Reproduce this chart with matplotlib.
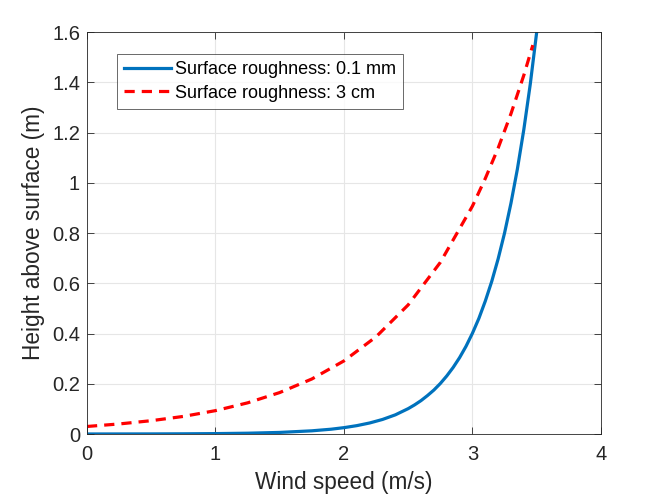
import matplotlib.pyplot as plt

# Wind speed (m/s) and height (m)
speed_smooth = [0.0, 0.5, 0.75, 1.0, 1.25, 1.5, 1.75, 1.9, 2.0, 2.1, 2.2, 2.3,
                2.4, 2.5, 2.55, 2.6, 2.65, 2.7, 2.75, 2.8, 2.85, 2.9, 2.95,
                3.0, 3.05, 3.1, 3.15, 3.2, 3.25, 3.3, 3.35, 3.4, 3.45, 3.5]
height_smooth = [0.0001, 0.0004, 0.0008, 0.0016, 0.0032, 0.0063, 0.0127, 0.0191,
                 0.0253, 0.0333, 0.0439, 0.0579, 0.0763, 0.101, 0.116, 0.133,
                 0.153, 0.175, 0.201, 0.231, 0.265, 0.304, 0.349, 0.401, 0.460,
                 0.529, 0.607, 0.697, 0.800, 0.919, 1.055, 1.212, 1.392, 1.599]

speed_rough = [0.0, 0.25, 0.5, 0.75, 1.0, 1.25, 1.5, 1.75, 2.0, 2.25, 2.5, 2.75,
               3.0, 3.1, 3.2, 3.3, 3.4, 3.47]
height_rough = [0.030, 0.040, 0.053, 0.070, 0.093, 0.124, 0.165, 0.219, 0.291,
                0.387, 0.514, 0.683, 0.907, 1.017, 1.138, 1.275, 1.428, 1.548]

labels = ['Surface roughness: 0.1 mm', 'Surface roughness: 3 cm']

plt.rcParams['font.family'] = ['Liberation Sans', 'DejaVu Sans']

fig = plt.figure(figsize=(6.64, 4.98), dpi=100)
ax = fig.add_axes([0.131, 0.1285, 0.774, 0.8072])

ax.plot(speed_smooth, height_smooth, color='#0072BD', lw=2.3, label=labels[0])
ax.plot(speed_rough, height_rough, color='#FF0000', lw=2.3, ls=(0, (3.2, 2.2)),
        label=labels[1])

ax.set_xlim(0, 4)
ax.set_ylim(0, 1.6)
ax.set_xticks([0, 1, 2, 3, 4])
ax.set_yticks([0, 0.2, 0.4, 0.6, 0.8, 1.0, 1.2, 1.4, 1.6])
ax.set_yticklabels(['0', '0.2', '0.4', '0.6', '0.8', '1', '1.2', '1.4', '1.6'])
ax.grid(True, color='#e6e6e6', lw=0.8)
ax.set_axisbelow(True)
ax.tick_params(direction='in', top=True, right=True, labelsize=14.5,
               colors='#262626', length=5, width=0.6)
ax.tick_params(axis='x', pad=8)
ax.tick_params(axis='y', pad=5)
for s in ax.spines.values():
    s.set_color('#262626')
    s.set_linewidth(0.6)

ax.set_xlabel('Wind speed (m/s)', fontsize=16.3, color='#262626', labelpad=5)
ax.set_ylabel('Height above surface (m)', fontsize=16.3, color='#262626',
              labelpad=5)

leg = ax.legend(loc='upper left', bbox_to_anchor=(0.058, 0.945), fontsize=13,
                frameon=True, fancybox=False, borderpad=0.4, labelspacing=0.35,
                handlelength=2.6, handletextpad=0.2, borderaxespad=0)
leg.get_frame().set_edgecolor('#262626')
leg.get_frame().set_linewidth(0.6)

fig.savefig('out.png', dpi=100)
